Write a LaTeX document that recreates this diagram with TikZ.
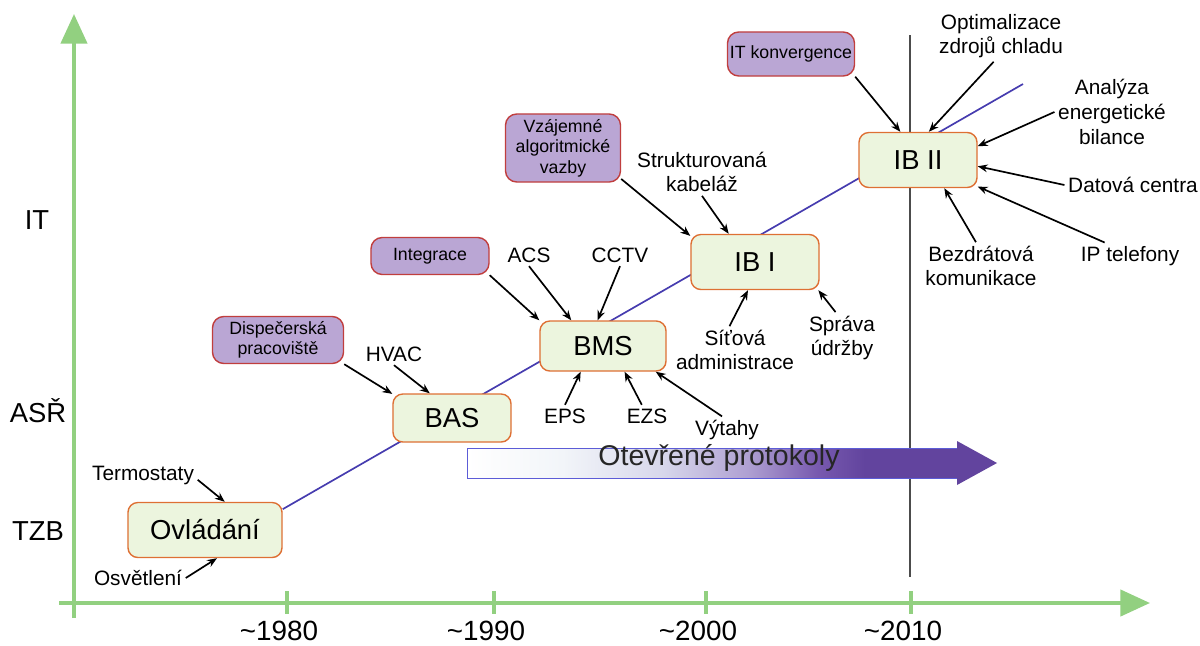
\documentclass[tikz,border=0pt]{standalone}
\usepackage{fontspec}
\setmainfont{Liberation Sans}
\usepackage{xcolor}
\usepackage{tikz}
\usetikzlibrary{arrows.meta, backgrounds}

\definecolor{axisgreen}{RGB}{146,208,128}
\definecolor{stagefill}{RGB}{236,245,222}
\definecolor{stagedraw}{RGB}{222,112,52}
\definecolor{featfill}{RGB}{186,166,212}
\definecolor{featdraw}{RGB}{192,62,62}
\definecolor{trendblue}{RGB}{70,60,175}
\definecolor{protpale}{RGB}{242,245,249}
\definecolor{protlight}{RGB}{215,215,235}
\definecolor{protmid}{RGB}{175,160,210}
\definecolor{protpurple}{RGB}{120,90,175}
\definecolor{protdark}{RGB}{98,68,158}
\definecolor{protborder}{RGB}{92,92,215}

\pgfdeclarehorizontalshading{protshade}{100bp}{color(0bp)=(white); color(25bp)=(white);
  color(34bp)=(protpale); color(43.5bp)=(protlight); color(51.5bp)=(protmid);
  color(58bp)=(protpurple); color(62.5bp)=(protdark); color(100bp)=(protdark)}

\newcommand{\stagefont}{\fontsize{19.5}{22}\selectfont}
\newcommand{\itemfont}{\fontsize{14.8}{17.5}\selectfont}
\newcommand{\featfont}{\fontsize{12.6}{14.6}\selectfont}
\newcommand{\yearfont}{\fontsize{19.8}{22}\selectfont}
\newcommand{\protfont}{\fontsize{20.3}{23}\selectfont}

\begin{document}
\begin{tikzpicture}[
      x=0.025cm, y=-0.025cm,
      stage/.style={rectangle, rounded corners=7pt, draw=stagedraw, fill=stagefill,
                    line width=1pt, font=\stagefont, inner sep=0pt},
      feature/.style={rectangle, rounded corners=8pt, draw=featdraw, fill=featfill,
                      line width=1pt, font=\featfont, align=center, inner sep=0pt},
      item/.style={font=\itemfont, align=center, inner sep=2.5pt},
      arr/.style={-{Stealth[length=7pt, width=5.5pt]}, line width=1.2pt},
      axis/.style={axisgreen, line width=2.8pt, -{Triangle[length=21pt, width=18.5pt]}},
      axistick/.style={axisgreen, line width=2.8pt},
      trend/.style={trendblue, line width=1.2pt}
    ]
    \useasboundingbox (0,0) rectangle (1200,645);

    % Axes
    \draw[axis] (59,603) -- (1150,603);
    \draw[axis] (74,618) -- (74,14);
    \foreach \tx/\yr in {287/1980, 494/1990, 706/2000, 911/2010} {
      \draw[axistick] (\tx,591) -- (\tx,614);
      \node[font=\yearfont] (yr\yr) at ({\tx-8},631) {\textasciitilde\yr};
    }
    \node[font=\stagefont] (lvlit)  at (37,220) {IT};
    \node[font=\stagefont] (lvlasr) at (38,411) {ASŘ};
    \node[font=\stagefont] (lvltzb) at (38,531) {TZB};

    % 2010 line
    \draw[black!70, line width=1pt] (910,35) -- (910,577);

    % Open protocols band
    \shade[shading=protshade] (467,448) -- (957,448) -- (957,441) -- (997,463)
      -- (957,485) -- (957,478) -- (467,478) -- cycle;
    \draw[protborder, line width=0.7pt] (957,448) -- (467,448) -- (467,478) -- (957,478);
    \node[font=\protfont, text=black!85, anchor=base, inner sep=0pt] (protokoly) at (719,465) {Otevřené protokoly};

    % Stages
    \node[stage, minimum width=3.85cm, minimum height=1.375cm] (ovl)   at (205,530) {Ovládání};
    \node[stage, minimum width=2.95cm, minimum height=1.2cm]   (bas)   at (452,418) {BAS};
    \node[stage, minimum width=3.15cm, minimum height=1.25cm]  (bms)   at (603,346) {BMS};
    \node[stage, minimum width=3.2cm,  minimum height=1.375cm] (ibone) at (755,262) {IB I};
    \node[stage, minimum width=2.95cm, minimum height=1.375cm] (ibtwo) at (918,160) {IB II};

    % Features
    \node[feature, minimum width=3.275cm, minimum height=1.175cm] (disp)   at (278,340) {Dispečerská\\pracoviště};
    \node[feature, minimum width=2.95cm,  minimum height=0.925cm] (integ)  at (430,256) {Integrace};
    \node[feature, minimum width=2.875cm, minimum height=1.7cm]   (vzaj)   at (563,148) {Vzájemné\\algoritmické\\vazby};
    \node[feature, minimum width=3.175cm, minimum height=1.1cm]   (itkonv) at (791,54)  {IT konvergence};

    % Items
    \node[item] (termo)   at (143,475)  {Termostaty};
    \node[item] (osvet)   at (138,578)  {Osvětlení};
    \node[item] (hvac)    at (394,354)  {HVAC};
    \node[item] (acs)     at (529,255)  {ACS};
    \node[item] (cctv)    at (620,255)  {CCTV};
    \node[item] (eps)     at (565,416)  {EPS};
    \node[item] (ezs)     at (647,416)  {EZS};
    \node[item] (vytahy)  at (727,430)  {Výtahy};
    \node[item] (strukt)  at (702,172)  {Strukturovaná\\kabeláž};
    \node[item] (sitova)  at (735,350)  {Síťová\\administrace};
    \node[item] (sprava)  at (842,338)  {Správa\\údržby};
    \node[item] (optim)   at (1001,36)  {Optimalizace\\zdrojů chladu};
    \node[item] (analyza) at (1112,112) {Analýza\\energetické\\bilance};
    \node[item] (datova)  at (1133,185) {Datová centra};
    \node[item] (iptel)   at (1130,256) {IP telefony};
    \node[item] (bezdr)   at (981,266)  {Bezdrátová\\komunikace};

    % Arrows into the stages
    \draw[arr] (termo.-5)         -- (ovl.55);
    \draw[arr] (osvet.east)       -- (ovl.-67);
    \draw[arr] (hvac.south)       -- (bas.132);
    \draw[arr] (disp.south east)  -- (bas.158);
    \draw[arr] (integ.south east) -- (bms.158);
    \draw[arr] (acs.south)        -- (bms.141);
    \draw[arr] (cctv.south)       -- (bms.102);
    \draw[arr] (eps.north)        -- (bms.-131);
    \draw[arr] (ezs.115)          -- (bms.-50);
    \draw[arr] (vytahy.110)       -- (bms.-26);
    \draw[arr] (vzaj.-28)         -- (ibone.158);
    \draw[arr] (strukt.south)     -- (ibone.133);
    \draw[arr] (sitova.103)       -- (ibone.-104);
    \draw[arr] (sprava.104)       -- (ibone.-24);
    \draw[arr] (itkonv.south east) -- (ibtwo.122);
    \draw[arr] (optim.-106)       -- (ibtwo.69);
    \draw[arr] (analyza.west)     -- (ibtwo.13);
    \draw[arr] (datova.west)      -- (ibtwo.-6);
    \draw[arr] (iptel.152)        -- (ibtwo.-24);
    \draw[arr] (bezdr.102)        -- (ibtwo.-47);

    % Trend line behind the stages
    \coordinate (trendend) at (1023,84);
    \begin{scope}[on background layer]
      \draw[trend] (ovl.15) -- (trendend);
    \end{scope}

  \end{tikzpicture}
\end{document}
